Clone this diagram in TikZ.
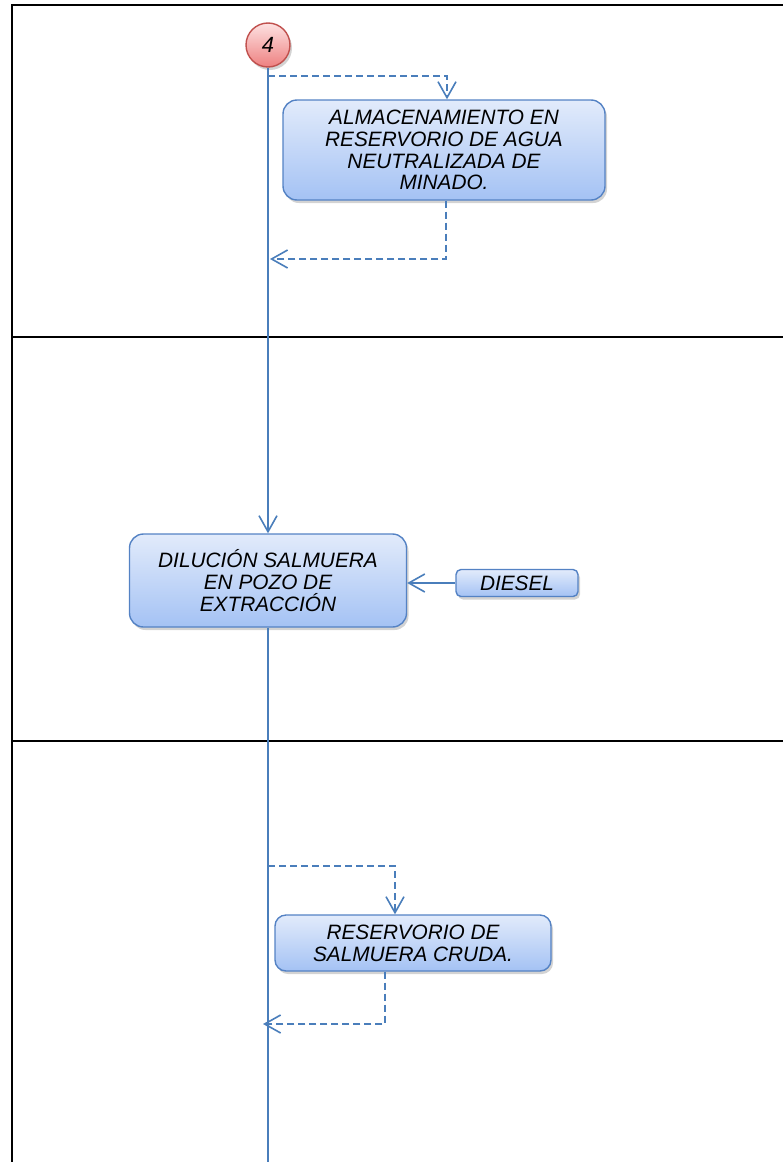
\documentclass[tikz,border=0pt]{standalone}
\usepackage{fontspec}
\setmainfont{Liberation Sans}
\usetikzlibrary{arrows.meta,shadows}
\definecolor{lineblue}{RGB}{74,126,187}
\definecolor{boxedge}{RGB}{84,130,196}
\definecolor{boxtop}{RGB}{226,235,251}
\definecolor{boxbot}{RGB}{164,194,244}
\definecolor{redtop}{RGB}{253,226,226}
\definecolor{redbot}{RGB}{238,128,128}
\definecolor{rededge}{RGB}{192,80,77}
\begin{document}
\begin{tikzpicture}[x=1pt,y=-1pt,
  frameline/.style={draw=black,line width=2pt},
  procbox/.style={draw=boxedge,line width=1.4pt,rounded corners=14pt,
    top color=boxtop,bottom color=boxbot,
    drop shadow={opacity=0.35,shadow xshift=2pt,shadow yshift=-3pt},
    align=center,inner sep=0pt,
    font=\fontsize{20.8}{21.8}\selectfont\itshape},
  startcircle/.style={circle,draw=rededge,line width=1.4pt,
    top color=redtop,bottom color=redbot,minimum size=44pt,inner sep=0pt,
    drop shadow={opacity=0.35,shadow xshift=2pt,shadow yshift=-3pt},
    font=\fontsize{22}{24}\selectfont\itshape},
  mainline/.style={draw=lineblue,line width=1.6pt},
  flow/.style={mainline,-{Straight Barb[length=16pt,width=18pt,line width=1.6pt]}},
  dflow/.style={draw=lineblue,line width=1.6pt,dash pattern=on 7pt off 4pt,
    -{Straight Barb[length=16pt,width=18pt,line width=1.6pt]}}
]
\useasboundingbox (0,0) rectangle (783,1162);
% frame
\draw[frameline] (12,1170) -- (12,5) -- (795,5);
\draw[frameline] (12,337) -- (795,337);
\draw[frameline] (12,741) -- (795,741);

% nodes
\node[startcircle] (c4) at (268,45) {4};
\node[procbox,minimum width=322pt,minimum height=100pt] (alm) at (444,150)
  {ALMACENAMIENTO EN\\RESERVORIO DE AGUA\\NEUTRALIZADA DE\\MINADO.};
\node[procbox,minimum width=277pt,minimum height=93pt] (dil) at (268,580.5)
  {DILUCIÓN SALMUERA\\EN POZO DE\\EXTRACCIÓN};
\node[procbox,rounded corners=5pt,minimum width=122pt,minimum height=27pt] (die) at (517,583)
  {DIESEL};
\node[procbox,rounded corners=11pt,minimum width=276pt,minimum height=56pt] (res) at (413,943)
  {RESERVORIO DE\\SALMUERA CRUDA.};

% coordinates
\coordinate (d1a) at (268,76);
\coordinate (d1b) at (447,76);
\coordinate (r1a) at (446,259);
\coordinate (r1b) at (270,259);
\coordinate (d2a) at (268,866);
\coordinate (d2b) at (395,866);
\coordinate (r2a) at (385,1024);
\coordinate (r2b) at (263,1024);
\coordinate (bot) at (268,1170);

% connectors
\draw[flow] (c4.south) -- (dil.north);
\draw[mainline] (dil.south) -- (bot);
\draw[flow] (die.west) -- (dil.east |- die.west);
\draw[dflow] (d1a) -- (d1b) -- (d1b |- alm.north);
\draw[dflow] (r1a |- alm.south) -- (r1a) -- (r1b);
\draw[dflow] (d2a) -- (d2b) -- (d2b |- res.north);
\draw[dflow] (r2a |- res.south) -- (r2a) -- (r2b);
\end{tikzpicture}
\end{document}
